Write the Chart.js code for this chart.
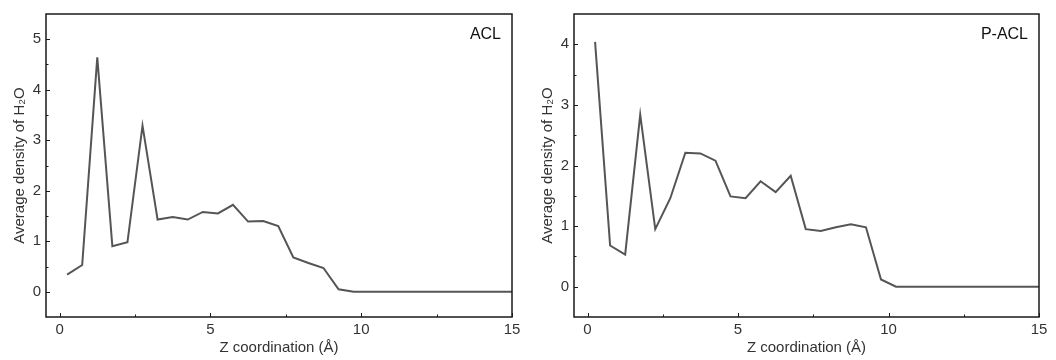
<!DOCTYPE html>
<html>
<head>
<meta charset="utf-8">
<script src="https://cdn.jsdelivr.net/npm/chart.js@4.4.1/dist/chart.umd.min.js"></script>
<style>
  html, body { margin: 0; padding: 0; background: #fff; }
  .wrap { display: flex; width: 1056px; height: 360px; }
  .cell { position: relative; width: 528px; height: 360px; }
</style>
</head>
<body>
<div class="wrap">
  <div class="cell"><canvas id="aclChart"></canvas></div>
  <div class="cell"><canvas id="paclChart"></canvas></div>
</div>
<script>
// bin centres along z (Å)
const zPositions = [0.25, 0.75, 1.25, 1.75, 2.25, 2.75, 3.25, 3.75, 4.25, 4.75, 5.25, 5.75, 6.25, 6.75, 7.25, 7.75,
  8.25, 8.75, 9.25, 9.75, 10.25, 10.75, 11.25, 11.75, 12.25, 12.75, 13.25, 13.75, 14.25, 14.75, 15.25];

const aclDensity = [0.34, 0.53, 4.64, 0.90, 0.98, 3.29, 1.43, 1.48, 1.43, 1.58, 1.55, 1.72, 1.39, 1.40, 1.30, 0.68,
  0.57, 0.47, 0.05, 0, 0, 0, 0, 0, 0, 0, 0, 0, 0, 0, 0];

const paclDensity = [4.04, 0.68, 0.53, 2.84, 0.95, 1.46, 2.21, 2.20, 2.08, 1.49, 1.46, 1.74, 1.56, 1.83, 0.95, 0.92,
  0.98, 1.03, 0.98, 0.12, 0, 0, 0, 0, 0, 0, 0, 0, 0, 0, 0];

const xTicks = [0, 5, 10, 15];
const xMinorTicks = [2.5, 7.5, 12.5];
const aclYTicks = [0, 1, 2, 3, 4, 5];
const paclYTicks = [0, 1, 2, 3, 4];

const FONT = '"Liberation Sans", Arial, sans-serif';
const TEXT = '#333';

// frame + inward tick marks + panel tag
const framePlugin = {
  id: 'frame',
  afterDraw(chart, args, opts) {
    const { ctx, chartArea: a, scales: { x, y } } = chart;
    ctx.save();
    ctx.strokeStyle = '#1a1a1a';
    ctx.lineWidth = 1.5;
    ctx.strokeRect(a.left, a.top, a.right - a.left, a.bottom - a.top);
    ctx.lineWidth = 1;
    ctx.beginPath();
    xTicks.forEach((v) => { const px = Math.round(x.getPixelForValue(v)) + 0.5; ctx.moveTo(px, a.bottom); ctx.lineTo(px, a.bottom - 4); });
    xMinorTicks.forEach((v) => { const px = Math.round(x.getPixelForValue(v)) + 0.5; ctx.moveTo(px, a.bottom); ctx.lineTo(px, a.bottom - 2.5); });
    opts.yTicks.forEach((v) => {
      const py = Math.round(y.getPixelForValue(v)) + 0.5; ctx.moveTo(a.left, py); ctx.lineTo(a.left + 4, py);
      const pm = Math.round(y.getPixelForValue(v + 0.5)) + 0.5;
      if (v + 0.5 < y.max) { ctx.moveTo(a.left, pm); ctx.lineTo(a.left + 2.5, pm); }
    });
    ctx.stroke();
    ctx.fillStyle = '#111';
    ctx.font = `16px ${FONT}`;
    ctx.textAlign = 'right';
    ctx.textBaseline = 'middle';
    ctx.fillText(opts.tag, a.right - 11, a.top + 21);
    ctx.restore();
  },
};

function makeChart(id, values, yMax, yTicks, tag, padRight) {
  return new Chart(document.getElementById(id), {
    type: 'line',
    data: {
      datasets: [{
        data: zPositions.map((z, i) => ({ x: z, y: values[i] })),
        borderColor: '#555',
        borderWidth: 2,
        pointRadius: 0,
        tension: 0,
      }],
    },
    options: {
      responsive: true,
      maintainAspectRatio: false,
      animation: false,
      layout: { padding: { top: 14, right: padRight, left: 0, bottom: 0 } },
      plugins: { legend: { display: false }, tooltip: { enabled: false }, frame: { yTicks, tag } },
      scales: {
        x: {
          type: 'linear',
          min: -0.45,
          max: 15,
          afterBuildTicks: (s) => { s.ticks = xTicks.map((v) => ({ value: v })); },
          afterFit: (s) => { s.height = 43; },
          grid: { display: false, drawTicks: false },
          border: { display: false },
          ticks: { color: TEXT, font: { family: FONT, size: 15 }, padding: 4, maxRotation: 0 },
          title: { display: true, text: 'Z coordination (Å)', color: TEXT, font: { family: FONT, size: 15 }, padding: { top: 0, bottom: 3 } },
        },
        y: {
          min: -0.5,
          max: yMax,
          afterBuildTicks: (s) => { s.ticks = yTicks.map((v) => ({ value: v })); },
          afterFit: (s) => { s.width = 46; },
          grid: { display: false, drawTicks: false },
          border: { display: false },
          ticks: { color: TEXT, font: { family: FONT, size: 15 }, padding: 5 },
          title: { display: true, text: 'Average density of H₂O', color: TEXT, font: { family: FONT, size: 15 }, padding: { top: 11, bottom: 0 } },
        },
      },
    },
    plugins: [framePlugin],
  });
}

makeChart('aclChart', aclDensity, 5.5, aclYTicks, 'ACL', 16);
makeChart('paclChart', paclDensity, 4.5, paclYTicks, 'P-ACL', 17);
</script>
</body>
</html>
